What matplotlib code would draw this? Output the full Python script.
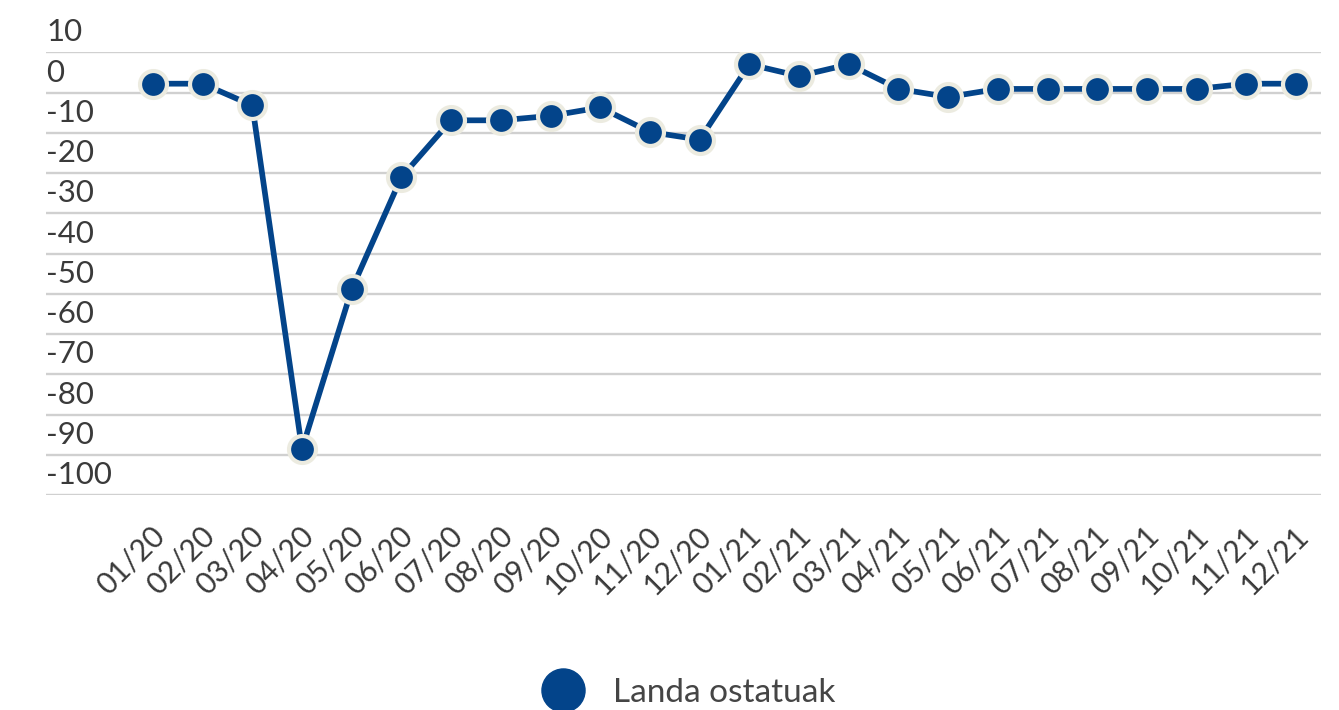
import matplotlib
matplotlib.use("Agg")
import matplotlib.pyplot as plt
from matplotlib.lines import Line2D
import matplotlib.transforms as mtransforms

# datuak (irakurritako balioak)
hilabeteak = ["01/20", "02/20", "03/20", "04/20", "05/20", "06/20", "07/20", "08/20",
              "09/20", "10/20", "11/20", "12/20", "01/21", "02/21", "03/21", "04/21",
              "05/21", "06/21", "07/21", "08/21", "09/21", "10/21", "11/21", "12/21"]
landa = [2.2, 2.2, -3.2, -88.6, -48.9, -21.0, -6.9, -6.9, -5.8, -3.7, -9.8, -11.7,
         7.0, 4.1, 7.0, 0.9, -1.1, 0.9, 0.9, 0.9, 0.9, 0.9, 2.2, 2.2]
y_ticks = [10, 0, -10, -20, -30, -40, -50, -60, -70, -80, -90, -100]

blue = "#03448a"
halo = "#ecebe0"
txt = "#3a3a3a"

plt.rcParams['font.family'] = ['Lato', 'DejaVu Sans']

W, H = 1339, 710
fig = plt.figure(figsize=(W / 100, H / 100), dpi=100)
ax = fig.add_axes([46 / W, 1 - 495 / H, (1321 - 46) / W, (495 - 52.3) / H])

x = list(range(len(hilabeteak)))
ax.plot(x, landa, color=blue, lw=4.1, marker='o', markersize=19.4,
        markerfacecolor=blue, markeredgecolor=halo, markeredgewidth=3.0,
        solid_capstyle='round', zorder=3)

ax.set_xlim(-2.15, 23.5)
ax.set_ylim(-100, 10)

# grid
ax.set_yticks(y_ticks)
ax.yaxis.grid(True, color='#d0d0d0', lw=1.7)
ax.set_axisbelow(True)
ax.tick_params(axis='y', length=0, labelleft=False)
ytrans = (mtransforms.blended_transform_factory(ax.transAxes, ax.transData)
          + mtransforms.ScaledTranslation(0, 11 / 100, fig.dpi_scale_trans))
for v in y_ticks:
    ax.text(0, v, str(v), transform=ytrans, ha='left', va='baseline',
            fontsize=22.5, color=txt)

ax.set_xticks(x)
ax.set_xticklabels(hilabeteak, rotation=45, ha='right', va='center',
                   rotation_mode='anchor', fontsize=21.5, color=txt)
ax.tick_params(axis='x', length=0, pad=26)
off = mtransforms.ScaledTranslation(7 / 100, 0, fig.dpi_scale_trans)
for lab in ax.get_xticklabels():
    lab.set_transform(lab.get_transform() + off)

for s in ax.spines.values():
    s.set_visible(False)

# legenda
fig.add_artist(Line2D([563 / W], [1 - 690 / H], marker='o', markersize=31, color=blue,
                      transform=fig.transFigure, ls='none'))
fig.text(613 / W, 1 - 702 / H, "Landa ostatuak", fontsize=24, color='#454545',
         ha='left', va='baseline')

fig.savefig("out.png", dpi=100)
